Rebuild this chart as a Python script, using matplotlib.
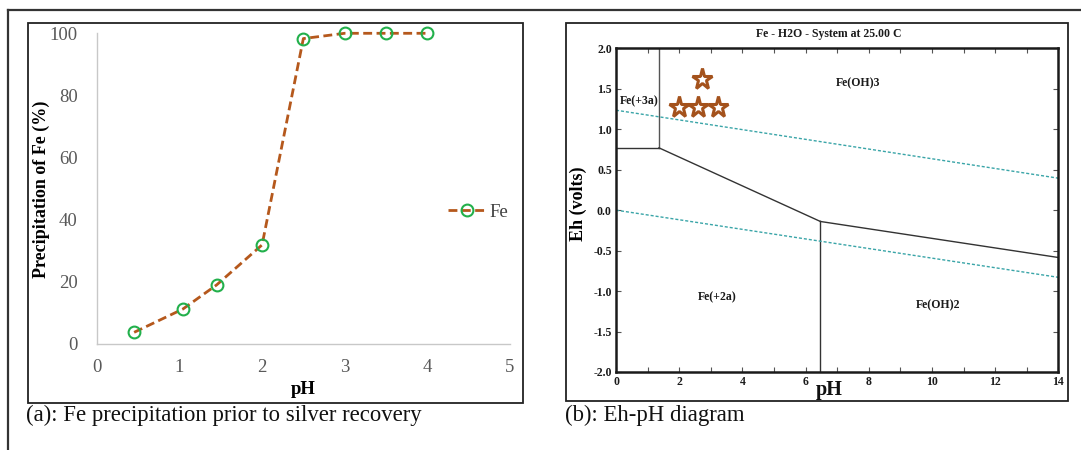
import matplotlib
matplotlib.use("Agg")
import matplotlib.pyplot as plt
from matplotlib.patches import Rectangle
from matplotlib.lines import Line2D
from matplotlib.ticker import MultipleLocator

# ---------------- data ----------------
# Panel (a): Fe precipitation vs pH
ph_a = [0.45, 1.04, 1.45, 2.0, 2.5, 3.0, 3.5, 4.0]
fe_precip = [3.6, 11.1, 18.9, 31.8, 98.3, 100, 100, 100]
xticks_a = [0, 1, 2, 3, 4, 5]
yticks_a = [0, 20, 40, 60, 80, 100]

# Panel (b): Eh-pH diagram boundaries
b_fe3_fe2_ph = [0, 1.36]
b_fe3_fe2_eh = [0.77, 0.77]
b_fe3_oh3_ph = [1.36, 1.36]
b_fe3_oh3_eh = [0.77, 2.0]
b_oh3_fe2_ph = [1.36, 6.47]
b_oh3_fe2_eh = [0.77, -0.14]
b_oh3_oh2_ph = [6.47, 14]
b_oh3_oh2_eh = [-0.14, -0.585]
b_fe2_oh2_ph = [6.47, 6.47]
b_fe2_oh2_eh = [-0.14, -2.0]
water_up_ph = [0, 14]
water_up_eh = [1.235, 0.395]
water_lo_ph = [0, 14]
water_lo_eh = [0.0, -0.83]
star_ph = [2.71, 1.99, 2.61, 3.23]
star_eh = [1.62, 1.28, 1.28, 1.28]
region_names = ["Fe(+3a)", "Fe(OH)3", "Fe(+2a)", "Fe(OH)2"]
region_ph = [0.72, 7.66, 3.22, 10.2]
region_eh = [1.35, 1.57, -1.08, -1.17]
xticks_b = [0, 2, 4, 6, 8, 10, 12, 14]
yticks_b = [-2.0, -1.5, -1.0, -0.5, 0.0, 0.5, 1.0, 1.5, 2.0]

# ---------------- figure ----------------
W, H = 1081, 450
fig = plt.figure(figsize=(W / 100, H / 100), dpi=100)
fig.patch.set_facecolor("white")
SERIF = ["Liberation Serif", "DejaVu Serif"]


def rect(x0, y0, x1, y1):
    return [x0 / W, 1 - y1 / H, (x1 - x0) / W, (y1 - y0) / H]


def fx(x):
    return x / W


def fy(y):
    return 1 - y / H


# outer frame (top and left)
fig.add_artist(Line2D([fx(8), fx(W + 5)], [fy(10), fy(10)], color="#333333", lw=1.6,
                      transform=fig.transFigure))
fig.add_artist(Line2D([fx(8), fx(8)], [fy(10), fy(H + 5)], color="#333333", lw=1.6,
                      transform=fig.transFigure))

# panel boxes
for (x0, y0, x1, y1) in [(27.5, 22.7, 523.4, 402.7), (566, 23.3, 1067.7, 400.7)]:
    fig.add_artist(Rectangle((fx(x0), fy(y1)), fx(x1) - fx(x0), fy(y0) - fy(y1),
                             fill=False, edgecolor="#222222", lw=1.3,
                             transform=fig.transFigure))

# ---------------- panel (a) ----------------
ax0, ay0, ax1, ay1 = 97, 33.3, 509.7, 343.5
axa = fig.add_axes(rect(ax0, ay0, ax1, ay1))
axa.set_xlim(0, 5)
axa.set_ylim(0, 100)
axa.plot(ph_a, fe_precip, linestyle=(0, (3.2, 1.6)), color="#b5581c", lw=2.0,
         marker="o", markersize=8.5, markerfacecolor="none",
         markeredgecolor="#22b04b", markeredgewidth=1.5, label="Fe", clip_on=False)
for s in ["top", "right"]:
    axa.spines[s].set_visible(False)
for s in ["left", "bottom"]:
    axa.spines[s].set_color("#c8c8c8")
    axa.spines[s].set_linewidth(1.0)
axa.set_xticks(xticks_a)
axa.set_yticks(yticks_a)
axa.tick_params(length=0, labelsize=13.5, colors="#595959", pad=11)
axa.tick_params(axis="y", pad=14)
for lab in axa.get_xticklabels() + axa.get_yticklabels():
    lab.set_family(SERIF)
axa.set_xlabel("pH", family=SERIF, fontweight="bold", fontsize=13.5)
axa.xaxis.set_label_coords((303 - ax0) / (ax1 - ax0), -(389 - ay1) / (ay1 - ay0))
axa.xaxis.label.set_va("center")
axa.set_ylabel("Precipitation of Fe (%)", family=SERIF, fontweight="bold",
               fontsize=13)
axa.yaxis.set_label_coords((41 - ax0) / (ax1 - ax0), (ay1 - 189) / (ay1 - ay0))
axa.yaxis.label.set_va("center")
leg = axa.legend(loc="center left",
                 bbox_to_anchor=((447.6 - ax0) / (ax1 - ax0), (ay1 - 212) / (ay1 - ay0)),
                 frameon=False, prop={"family": SERIF, "size": 13.5},
                 handlelength=2.05, handletextpad=0.2, borderpad=0, borderaxespad=0)
for t in leg.get_texts():
    t.set_color("#404040")

fig.text(fx(26), fy(415), "(a): Fe precipitation prior to silver recovery",
         family=SERIF, fontsize=16.4, color="#111111", va="center", ha="left")

# ---------------- panel (b) ----------------
bx0, by0, bx1, by1 = 616, 48.3, 1058.3, 372
axb = fig.add_axes(rect(bx0, by0, bx1, by1))
axb.set_xlim(0, 14)
axb.set_ylim(-2, 2)
lc = "#333333"
axb.plot(b_fe3_fe2_ph, b_fe3_fe2_eh, color=lc, lw=1.0)
axb.plot(b_fe3_oh3_ph, b_fe3_oh3_eh, color="#555555", lw=1.0)
axb.plot(b_oh3_fe2_ph, b_oh3_fe2_eh, color=lc, lw=1.0)
axb.plot(b_oh3_oh2_ph, b_oh3_oh2_eh, color=lc, lw=1.0)
axb.plot(b_fe2_oh2_ph, b_fe2_oh2_eh, color=lc, lw=1.0)
axb.plot(water_up_ph, water_up_eh, color="#3aa5a8", lw=1.0, linestyle=(0, (2.2, 1.4)))
axb.plot(water_lo_ph, water_lo_eh, color="#3aa5a8", lw=1.0, linestyle=(0, (2.2, 1.4)))
axb.plot(star_ph, star_eh, linestyle="none", marker="*", markersize=15.5,
         markerfacecolor="white", markeredgecolor="#a4521c", markeredgewidth=2.2)
for name, px, py in zip(region_names, region_ph, region_eh):
    axb.text(px, py, name, family=SERIF, fontweight="bold", fontsize=8.5,
             color="#1a1a1a", ha="center", va="center")

for s in axb.spines.values():
    s.set_linewidth(1.8)
    s.set_color("#1a1a1a")
axb.set_xticks(xticks_b)
axb.xaxis.set_minor_locator(MultipleLocator(1))
axb.set_yticks(yticks_b)
axb.set_yticklabels([f"{v:.1f}" for v in yticks_b])
axb.tick_params(which="both", direction="in", top=True, right=True, length=3.5,
                width=0.8, color="#555555", labelsize=8.5, pad=3)
for lab in axb.get_xticklabels() + axb.get_yticklabels():
    lab.set_family(SERIF)
    lab.set_fontweight("bold")
    lab.set_color("#1a1a1a")
axb.set_ylabel("Eh (volts)", family=SERIF, fontweight="bold", fontsize=13)
axb.yaxis.set_label_coords((578 - bx0) / (bx1 - bx0), (by1 - 204) / (by1 - by0))
axb.yaxis.label.set_va("center")
fig.text(fx(829), fy(390), "pH", family=SERIF, fontweight="bold", fontsize=14.5,
         ha="center", va="center", color="#111111")
fig.text(fx(829), fy(34), "Fe - H2O - System at 25.00 C", family=SERIF,
         fontweight="bold", fontsize=8.5, ha="center", va="center", color="#1a1a1a")

fig.text(fx(565), fy(415), "(b): Eh-pH diagram", family=SERIF, fontsize=16.4,
         color="#111111", va="center", ha="left")

fig.savefig("out.png", dpi=100)
